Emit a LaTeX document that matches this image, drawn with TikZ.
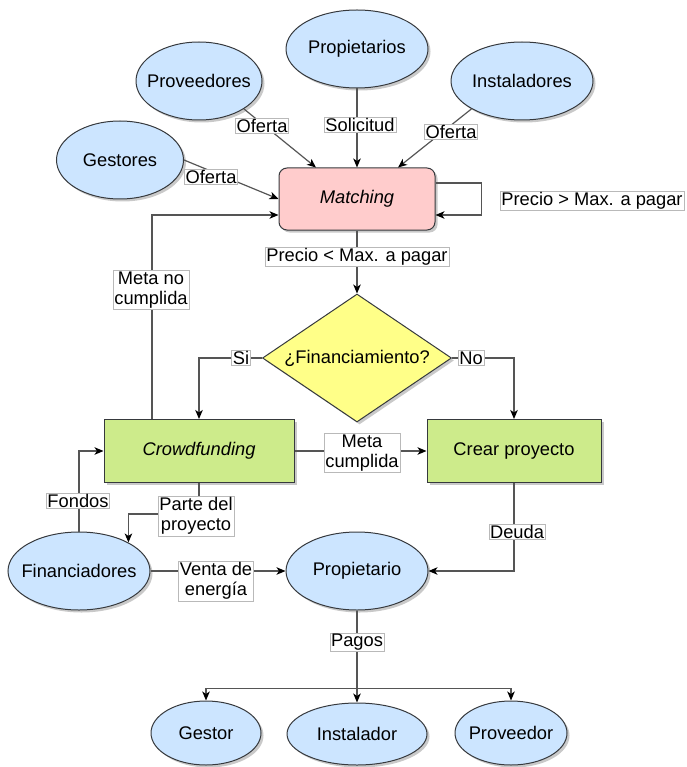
\documentclass[tikz,border=0pt]{standalone}
\usepackage{fontspec}
\setmainfont{Liberation Sans}
\usetikzlibrary{shapes.geometric,arrows.meta,shadows}
\definecolor{edgegray}{HTML}{36393D}
\definecolor{linegray}{HTML}{555555}
\definecolor{actorfill}{HTML}{CCE5FF}
\definecolor{matchfill}{HTML}{FFCCCC}
\definecolor{askfill}{HTML}{FFFF88}
\definecolor{stepfill}{HTML}{CDEB8B}
\begin{document}
\begin{tikzpicture}[x=1pt,y=-1pt,
  font=\fontsize{18.3}{21}\selectfont,
  softshadow/.style={drop shadow={shadow xshift=2.5pt,shadow yshift=-2.5pt,opacity=0.3,fill=black!70}},
  actor/.style={ellipse,draw=edgegray,fill=actorfill,line width=1pt,
    inner xsep=-14pt,inner ysep=0pt,minimum width=142pt,minimum height=78pt,softshadow},
  procbox/.style={rectangle,draw=edgegray,line width=1pt,minimum height=63pt,softshadow},
  decision/.style={diamond,draw=edgegray,fill=askfill,line width=1pt,inner sep=0pt,
    shape aspect=1.48,minimum width=189pt,minimum height=128pt,softshadow},
  conn/.style={draw=linegray,line width=1.2pt,
    -{Stealth[length=9pt,width=7.5pt,inset=2.5pt,color=black]}},
  lbl/.style={draw=gray!55,fill=white,line width=0.5pt,inner xsep=1.2pt,inner ysep=1pt,
    align=center,font=\fontsize{18.3}{20.5}\selectfont}]
\useasboundingbox (0,0) rectangle (686,767);

% participants
\node[actor] (owners) at (357,49) {Propietarios};
\node[actor,minimum width=126pt] (suppliers) at (199,81) {Proveedores};
\node[actor] (installers) at (522,81) {Instaladores};
\node[actor,minimum width=127pt] (managers) at (120,160) {Gestores};

% process
\node[procbox,fill=matchfill,rounded corners=8pt,minimum width=156pt,minimum height=62pt]
  (match) at (357,199) {\textit{Matching}};
\node[decision] (ask) at (357,358) {¿Financiamiento?};
\node[procbox,fill=stepfill,minimum width=190pt] (crowd) at (199,451) {\textit{Crowdfunding}};
\node[procbox,fill=stepfill,minimum width=174pt] (build) at (514,451) {Crear proyecto};

% outcome
\node[actor] (backers) at (79,571) {Financiadores};
\node[actor] (owner) at (357,571) {Propietario};
\node[actor,minimum width=110pt,minimum height=64pt] (gestor) at (206,733) {Gestor};
\node[actor,minimum width=140pt,minimum height=62pt] (inst) at (357,734) {Instalador};
\node[actor,minimum width=112pt,minimum height=64pt] (prov) at (511,733) {Proveedor};

% connectors
\draw[conn] (suppliers.south east) -- ([xshift=-41pt]match.north);
\draw[conn] (owners.south) -- (match.north);
\draw[conn] (installers.south west) -- ([xshift=41pt]match.north);
\draw[conn] (managers.east) -- (match.west);
\draw[conn] ([yshift=16pt]match.east) -- ++(46pt,0pt) -- ++(0pt,-32pt) -- ([yshift=-16pt]match.east);
\draw[conn] (match.south) -- (ask.north);
\draw[conn] (ask.west) -| (crowd.north);
\draw[conn] (ask.east) -| (build.north);
\draw[conn] ([xshift=-47pt]crowd.north) |- ([yshift=-16pt]match.west);
\draw[conn] (crowd.east) -- (build.west);
\draw[conn] (backers.north) |- (crowd.west);
\draw[conn] (crowd.south) -- ++(0pt,-31pt) -| (backers.30);
\draw[conn] (backers.east) -- (owner.west);
\draw[conn] (build.south) |- (owner.east);
\draw[conn] (owner.south) -- (inst.north);
\path (owner.south) ++(0pt,-78pt) coordinate (split);
\draw[conn] (split) -| (gestor.north);
\draw[conn] (split) -| (prov.north);

% connector labels
\node[lbl] (tOfertaProv) at (262,126) {Oferta};
\node[lbl] (tSolicitud) at (360,125) {Solicitud};
\node[lbl] (tOfertaInst) at (451,132) {Oferta};
\node[lbl] (tOfertaGest) at (211,177) {Oferta};
\node[lbl] (tMayor) at (592,201) {Precio > Max. a pagar};
\node[lbl] (tMenor) at (357,257) {Precio < Max. a pagar};
\node[lbl] (tNoMeta) at (151,290) {Meta no\\cumplida};
\node[lbl] (tSi) at (241,358) {Si};
\node[lbl] (tNo) at (471,358) {No};
\node[lbl] (tMeta) at (362,453) {Meta\\cumplida};
\node[lbl] (tFondos) at (78,501) {Fondos};
\node[lbl] (tParte) at (196,516) {Parte del\\proyecto};
\node[lbl] (tVenta) at (216,581) {Venta de\\energía};
\node[lbl] (tDeuda) at (517,532) {Deuda};
\node[lbl] (tPagos) at (357,642) {Pagos};
\end{tikzpicture}
\end{document}
